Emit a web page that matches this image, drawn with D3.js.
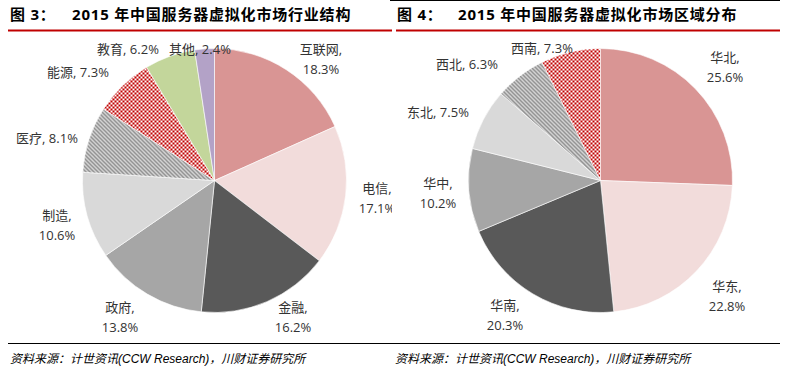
<!DOCTYPE html>
<html>
<head>
<meta charset="utf-8">
<script src="https://cdn.jsdelivr.net/npm/d3@7"></script>
<style>
  body { margin: 0; background: #fff; }
  text { font-family: "Open Sans", "Noto Sans CJK SC", sans-serif; }
  .lbl { font-size: 13px; fill: #333; }
  .title { font-size: 15px; font-weight: bold; fill: #000; letter-spacing: 0.8px; }
  .src { font-size: 12px; font-style: italic; fill: #000; font-family: "Liberation Sans", "Noto Sans CJK SC", sans-serif; }
</style>
</head>
<body>
<div id="chart"></div>
<script>
// data - fig 3 (industry)
const industryNames = ["互联网", "电信", "金融", "政府", "制造", "医疗", "能源", "教育", "其他"];
const industryValues = [18.3, 17.1, 16.2, 13.8, 10.6, 8.1, 7.3, 6.2, 2.4];
// data - fig 4 (region)
const regionNames = ["华北", "华东", "华南", "华中", "东北", "西北", "西南"];
const regionValues = [25.6, 22.8, 20.3, 10.2, 7.5, 6.3, 7.3];

const svgWidth = 787, svgHeight = 374, radius = 132;

const industryFills = ["#D99594", "#F2DCDB", "#595959", "#A6A6A6", "#D9D9D9",
    "url(#stripes)", "url(#checker)", "#C3D69B", "#B3A2C7"];
const regionFills = ["#D99594", "#F2DCDB", "#595959", "#A6A6A6", "#D9D9D9",
    "url(#stripes)", "url(#checker)"];

// label anchors (center of label block), one or two lines
const industryLabelPos = [[321, 49, 2], [377, 188, 2], [293, 307, 2], [120, 307, 2], [57, 215, 2],
    [47, 138, 1], [78, 72, 1], [128, 49, 1], [200, 49, 1]];
const regionLabelPos = [[725, 57, 2], [727, 286, 2], [505, 305, 2], [438, 183, 2],
    [438, 112, 1], [467, 64, 1], [542, 48, 1]];

let svg = d3.select("#chart").append("svg")
    .attr("width", svgWidth)
    .attr("height", svgHeight);

let defs = svg.append("defs");
let stripes = defs.append("pattern")
    .attr("id", "stripes")
    .attr("width", 4).attr("height", 4)
    .attr("patternUnits", "userSpaceOnUse");
stripes.append("rect").attr("width", 4).attr("height", 4).attr("fill", "#fff");
stripes.append("path")
    .attr("d", "M-1,3 l2,2 M0,0 l4,4 M3,-1 l2,2")
    .attr("stroke", "#808080")
    .attr("stroke-width", 1.6);

let checker = defs.append("pattern")
    .attr("id", "checker")
    .attr("width", 4).attr("height", 4)
    .attr("patternUnits", "userSpaceOnUse");
checker.append("rect").attr("width", 4).attr("height", 4).attr("fill", "#fff");
checker.append("rect").attr("width", 2).attr("height", 2).attr("fill", "#C00000");
checker.append("rect").attr("x", 2).attr("y", 2).attr("width", 2).attr("height", 2).attr("fill", "#C00000");

defs.append("clipPath").attr("id", "leftClip")
    .append("rect").attr("width", 392).attr("height", svgHeight);

// frame lines
svg.append("line").attr("x1", 390).attr("x2", 780).attr("y1", 0.5).attr("y2", 0.5)
    .attr("stroke", "#000").attr("stroke-width", 1);
svg.append("line").attr("x1", 8).attr("x2", 392).attr("y1", 30.5).attr("y2", 30.5)
    .attr("stroke", "#C00000").attr("stroke-width", 2);
svg.append("line").attr("x1", 396).attr("x2", 780).attr("y1", 30.5).attr("y2", 30.5)
    .attr("stroke", "#C00000").attr("stroke-width", 2);
svg.append("line").attr("x1", 8).attr("x2", 780).attr("y1", 343.5).attr("y2", 343.5)
    .attr("stroke", "#000").attr("stroke-width", 1);

// titles
svg.append("text").attr("class", "title").attr("x", 10).attr("y", 20).text("图 3：");
svg.append("text").attr("class", "title").attr("x", 72).attr("y", 20).text("2015 年中国服务器虚拟化市场行业结构");
svg.append("text").attr("class", "title").attr("x", 397).attr("y", 20).text("图 4：");
svg.append("text").attr("class", "title").attr("x", 458).attr("y", 20).text("2015 年中国服务器虚拟化市场区域分布");

// sources
const srcText = "资料来源：计世资讯(CCW Research)，川财证券研究所";
svg.append("text").attr("class", "src").attr("x", 10).attr("y", 363).text(srcText);
svg.append("text").attr("class", "src").attr("x", 395).attr("y", 363).text(srcText);

let pie = d3.pie().sort(null).value((d) => d.value);
let arc = d3.arc().innerRadius(0).outerRadius(radius);

function drawPie(g, names, values, fills, labelPos, cx, cy) {
    let data = names.map((n, i) => ({ name: n, value: values[i] }));
    let arcs = pie(data);

    g.append("g")
        .attr("transform", `translate(${cx},${cy})`)
        .selectAll("path")
        .data(arcs)
        .join("path")
        .attr("d", arc)
        .attr("fill", (d, i) => fills[i])
        .attr("stroke", "#fff")
        .attr("stroke-width", 0.6);

    let labels = g.selectAll("text.lbl")
        .data(arcs)
        .join("text")
        .attr("class", "lbl")
        .attr("text-anchor", "middle")
        .attr("x", (d, i) => labelPos[i][0])
        .attr("y", (d, i) => labelPos[i][1] + 5);

    labels.each(function (d, i) {
        let t = d3.select(this);
        let pct = d.data.value.toFixed(1) + "%";
        if (labelPos[i][2] == 2) {
            t.append("tspan").attr("x", labelPos[i][0]).text(d.data.name + ",");
            t.append("tspan").attr("x", labelPos[i][0]).attr("dy", 20).text(pct);
        } else {
            t.text(d.data.name + ", " + pct);
        }
    });
}

let leftG = svg.append("g").attr("clip-path", "url(#leftClip)");
drawPie(leftG, industryNames, industryValues, industryFills, industryLabelPos, 214.5, 180.5);
let rightG = svg.append("g");
drawPie(rightG, regionNames, regionValues, regionFills, regionLabelPos, 600.5, 180.5);
</script>
</body>
</html>
